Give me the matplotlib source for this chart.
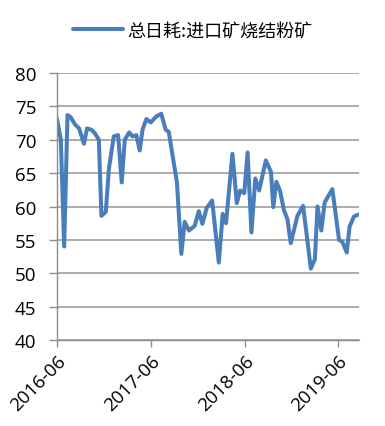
import matplotlib
matplotlib.use("Agg")
import matplotlib.pyplot as plt
import pandas as pd

plt.rcParams['font.family'] = ['Noto Sans CJK SC', 'DejaVu Sans']

dates = ["2016-06-01", "2016-06-16", "2016-06-29", "2016-07-12", "2016-07-24", "2016-08-10",
         "2016-08-26", "2016-09-14", "2016-09-26", "2016-10-13", "2016-10-26", "2016-11-11",
         "2016-11-21", "2016-12-08", "2016-12-20", "2017-01-08", "2017-01-25", "2017-02-08",
         "2017-02-20", "2017-03-09", "2017-03-22", "2017-04-06", "2017-04-19", "2017-04-30",
         "2017-05-15", "2017-06-01", "2017-06-23", "2017-07-12", "2017-07-29", "2017-08-10",
         "2017-09-11", "2017-09-28", "2017-10-11", "2017-10-28", "2017-11-19", "2017-12-05",
         "2017-12-19", "2018-01-05", "2018-01-26", "2018-02-21", "2018-03-08", "2018-03-21",
         "2018-04-15", "2018-05-02", "2018-05-15", "2018-05-31", "2018-06-13", "2018-06-28",
         "2018-07-13", "2018-07-28", "2018-08-23", "2018-09-12", "2018-09-21", "2018-10-03",
         "2018-10-17", "2018-11-02", "2018-11-15", "2018-11-28", "2018-12-24", "2019-01-15",
         "2019-01-29", "2019-02-14", "2019-03-02", "2019-03-12", "2019-03-27", "2019-04-09",
         "2019-05-09", "2019-06-04", "2019-06-17", "2019-07-04", "2019-07-15", "2019-08-01",
         "2019-08-18"]
values = [73.1, 70.0, 54.0, 73.7, 73.4, 72.3,
          71.7, 69.4, 71.7, 71.5, 71.0, 70.0,
          58.6, 59.2, 65.6, 70.5, 70.7, 63.6,
          70.0, 71.1, 70.5, 70.7, 68.4, 71.5,
          73.1, 72.6, 73.5, 73.9, 71.5, 71.2,
          63.6, 52.9, 57.7, 56.4, 57.1, 59.3,
          57.4, 59.8, 60.9, 51.6, 58.9, 57.5,
          67.9, 60.5, 62.4, 62.0, 68.1, 56.1,
          64.2, 62.4, 66.9, 65.2, 59.9, 63.7,
          62.4, 59.4, 58.1, 54.5, 58.6, 60.1,
          55.8, 50.7, 52.1, 60.0, 56.4, 60.6,
          62.6, 55.0, 54.7, 53.1, 57.0, 58.5,
          58.8]
series_name = "总日耗:进口矿烧结粉矿"
xtick_labels = ["2016-06", "2017-06", "2018-06", "2019-06"]
yticks = [40, 45, 50, 55, 60, 65, 70, 75, 80]

x = pd.to_datetime(dates)

fig = plt.figure(figsize=(3.85, 4.27), dpi=100)
ax = fig.add_axes([0.148, 0.2014, 0.784, 0.6253])

line, = ax.plot(x, values, color="#4a7ebb", linewidth=2.9, solid_joinstyle="round",
                solid_capstyle="round", label=series_name)

ax.set_ylim(40, 80)
ax.set_yticks(yticks)
ax.set_xlim(pd.Timestamp("2016-06-01"), pd.Timestamp("2019-08-20"))
ax.set_xticks(pd.to_datetime([t + "-01" for t in xtick_labels]))
ax.set_xticklabels(xtick_labels, rotation=45, ha="right", va="top",
                   rotation_mode="anchor", fontsize=13.5, family="Open Sans")
ax.set_yticklabels([str(v) for v in yticks], fontsize=13.5, family="Open Sans")
ax.tick_params(axis="y", length=6, color="#8c8c8c", width=1, pad=9)
ax.tick_params(axis="x", length=5, color="#8c8c8c", width=1, pad=3)

ax.grid(axis="y", color="#969696", linewidth=1.1)
ax.set_axisbelow(True)
for s in ["top", "right"]:
    ax.spines[s].set_visible(False)
for s in ["left", "bottom"]:
    ax.spines[s].set_color("#8c8c8c")
    ax.spines[s].set_linewidth(1)

fig.legend(handles=[line], loc="center", bbox_to_anchor=(0.5, 0.927), frameon=False,
           fontsize=13, handlelength=2.8, handletextpad=0.2)

fig.savefig("out.png", dpi=100, facecolor="white")
